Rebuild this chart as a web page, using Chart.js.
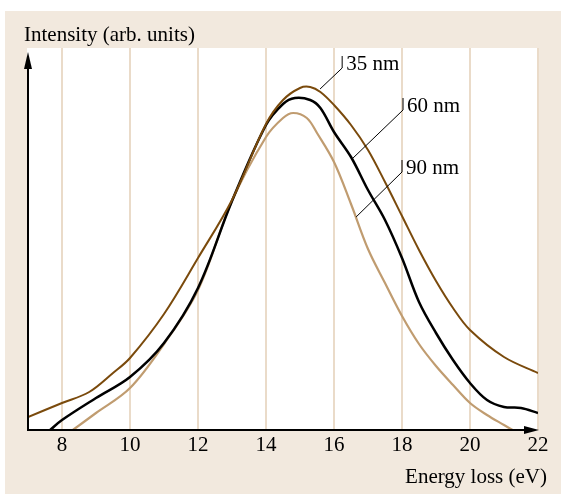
<!DOCTYPE html>
<html>
<head>
<meta charset="utf-8">
<script src="https://cdn.jsdelivr.net/npm/chart.js@4/dist/chart.umd.min.js"></script>
<style>
  html, body { margin: 0; padding: 0; background: #fff; }
  #wrap { width: 561px; height: 494px; }
</style>
</head>
<body>
<div id="wrap"><canvas id="myChart" width="561" height="494"></canvas></div>
<script>
// energy loss (eV) and intensity for the three film thicknesses
const energy35 = [7.0, 8.0, 8.8, 9.5, 10.0, 11.0, 12.0, 13.0, 14.0, 14.5, 15.0, 15.3, 15.6, 16.0, 16.5, 17.0, 17.5, 18.0, 18.5, 19.0, 19.5, 20.0, 21.0, 22.0];
const intensity35 = [13, 27, 38, 57, 72, 116, 172, 230, 306, 330, 342, 343, 338, 325, 305, 280, 248, 214, 180, 149, 122, 100, 73, 57];

const energy60 = [7.65, 8.0, 9.0, 10.0, 11.0, 12.0, 13.0, 14.0, 14.5, 14.85, 15.3, 15.6, 16.0, 16.5, 17.0, 17.5, 18.0, 18.5, 19.0, 19.5, 20.0, 20.5, 21.0, 21.5, 22.0];
const intensity60 = [0, 10, 32, 53, 87, 142, 229, 305, 326, 332, 330, 322, 298, 273, 240, 210, 172, 128, 97, 70, 47, 30, 23, 22, 17];

const energy90 = [8.32, 9.0, 10.0, 11.0, 12.0, 13.0, 14.0, 14.5, 14.8, 15.2, 15.5, 16.0, 16.5, 17.0, 17.5, 18.0, 18.5, 19.0, 19.5, 20.0, 20.5, 21.0, 21.25];
const intensity90 = [0, 17, 42, 86, 140, 229, 293, 312, 317, 312, 297, 268, 226, 181, 147, 114, 86, 64, 45, 27, 15, 5, 0];

const xTicks = [8, 10, 12, 14, 16, 18, 20, 22];

// thickness labels: point on the curve, corner of the leader, text
const callouts = [
  { text: '35 nm', at: [15.59, 341], corner: [16.24, 362] },
  { text: '60 nm', at: [16.56, 272], corner: [18.03, 320] },
  { text: '90 nm', at: [16.65, 213], corner: [18.0, 258] }
];

const FONT = '"Liberation Serif", "Times New Roman", serif';

function pts(xs, ys) {
  return xs.map((x, i) => ({ x: x, y: ys[i] }));
}

const decor = {
  id: 'decor',
  beforeDraw(chart) {
    const c = chart.ctx, a = chart.chartArea;
    c.save();
    c.fillStyle = '#ffffff';
    c.fillRect(0, 0, chart.width, chart.height);
    c.fillStyle = '#f2e9de';
    c.fillRect(5, 11, chart.width - 5, chart.height - 11);
    c.fillStyle = '#ffffff';
    c.fillRect(a.left - 1, a.top, a.right - a.left + 1, a.bottom - a.top);
    c.restore();
  },
  afterDatasetsDraw(chart) {
    const c = chart.ctx, a = chart.chartArea;
    const xs = chart.scales.x, ys = chart.scales.y;
    c.save();
    c.strokeStyle = '#000';
    c.fillStyle = '#000';
    c.lineWidth = 2;
    // y axis with arrow
    c.beginPath();
    c.moveTo(a.left, a.bottom);
    c.lineTo(a.left, a.top + 14);
    c.stroke();
    c.beginPath();
    c.moveTo(a.left, a.top + 4);
    c.lineTo(a.left - 4, a.top + 21);
    c.lineTo(a.left + 4, a.top + 21);
    c.closePath();
    c.fill();
    // x axis with arrow
    c.beginPath();
    c.moveTo(a.left - 1, a.bottom);
    c.lineTo(a.right - 10, a.bottom);
    c.stroke();
    c.beginPath();
    c.moveTo(a.right + 1, a.bottom);
    c.lineTo(a.right - 14, a.bottom - 4);
    c.lineTo(a.right - 14, a.bottom + 4);
    c.closePath();
    c.fill();

    // leaders and thickness labels
    c.lineWidth = 1;
    c.font = '21px ' + FONT;
    c.textBaseline = 'alphabetic';
    callouts.forEach(o => {
      const x0 = xs.getPixelForValue(o.at[0]), y0 = ys.getPixelForValue(o.at[1]);
      const x1 = xs.getPixelForValue(o.corner[0]), y1 = ys.getPixelForValue(o.corner[1]);
      c.beginPath();
      c.moveTo(x0, y0);
      c.lineTo(x1, y1);
      c.lineTo(x1, y1 - 12);
      c.stroke();
      c.fillText(o.text, x1 + 4, y1 + 2);
    });

    // axis titles
    c.fillText('Intensity (arb. units)', 24, 41);
    c.textAlign = 'right';
    c.fillText('Energy loss (eV)', 547, 483);
    c.restore();
  }
};

const ctx = document.getElementById('myChart');

const myChart = new Chart(ctx, {
  type: 'line',
  data: {
    datasets: [{
      label: '35 nm',
      data: pts(energy35, intensity35),
      borderColor: 'rgb(122, 74, 12)',
      borderWidth: 2
    }, {
      label: '60 nm',
      data: pts(energy60, intensity60),
      borderColor: '#000000',
      borderWidth: 2.5
    }, {
      label: '90 nm',
      data: pts(energy90, intensity90),
      borderColor: 'rgb(192, 156, 112)',
      borderWidth: 2.2
    }]
  },
  options: {
    responsive: false,
    animation: false,
    layout: {
      padding: { left: 28, right: 23, top: 48, bottom: 0 }
    },
    elements: {
      point: { radius: 0 },
      line: { tension: 0.35, fill: false }
    },
    plugins: {
      legend: { display: false },
      tooltip: { enabled: false }
    },
    scales: {
      x: {
        type: 'linear',
        min: 7,
        max: 22,
        afterBuildTicks: (scale) => {
          scale.ticks = xTicks.map(v => ({ value: v }));
        },
        afterFit: (scale) => {
          scale.height = 64;
        },
        grid: {
          color: '#eadbc9',
          lineWidth: 2,
          drawTicks: false
        },
        border: { display: false },
        ticks: {
          color: '#000',
          padding: 3,
          maxRotation: 0,
          font: { family: FONT, size: 21 }
        }
      },
      y: {
        display: false,
        min: 0,
        max: 382
      }
    }
  },
  plugins: [decor]
});
</script>
</body>
</html>
